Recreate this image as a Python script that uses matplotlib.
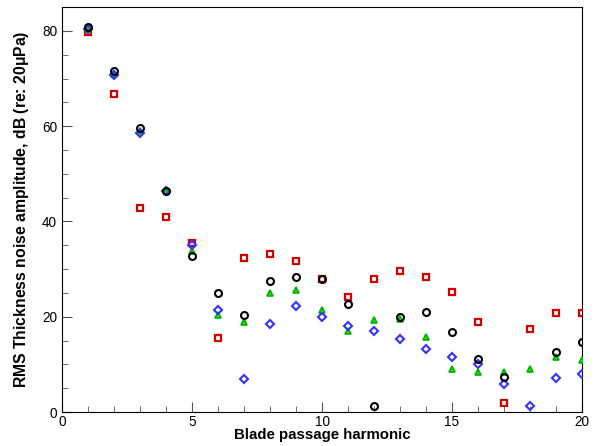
import numpy as np
import matplotlib
matplotlib.use('Agg')
import matplotlib.pyplot as plt
from matplotlib.ticker import MultipleLocator

# Armonica della frequenza di passaggio pala
harmonic = np.arange(1, 21)

# Ampiezze RMS (dB)
black_circle = [80.8, 71.6, 59.6, 46.4, 32.8, 25.0, 20.3, 27.6, 28.4, 27.9,
                22.6, 1.3, 20.0, 20.9, 16.8, 11.2, 7.4, np.nan, 12.7, 14.7]
red_square = [79.8, 66.7, 42.9, 41.0, 35.5, 15.6, 32.3, 33.2, 31.8, 27.9,
              24.2, 28.0, 29.5, 28.4, 25.2, 19.0, 1.8, 17.5, 20.8, 20.8]
green_triangle = [80.5, 71.0, 59.0, 46.3, 33.7, 20.4, 18.8, 25.0, 25.7, 21.5,
                  17.0, 19.4, 19.6, 15.7, 9.1, 8.5, 8.3, 9.0, 11.6, 10.9]
blue_diamond = [80.5, 70.7, 58.5, 46.5, 35.0, 21.4, 6.9, 18.4, 22.2, 20.0,
                18.0, 17.1, 15.4, 13.3, 11.5, 10.0, 5.8, 1.3, 7.2, 8.0]

plt.rcParams['font.family'] = ['Liberation Sans', 'DejaVu Sans']

fig = plt.figure(figsize=(5.94, 4.46), dpi=100)
ax = fig.add_axes([0.1044, 0.0762, 0.8754, 0.9078])

ax.plot(harmonic, red_square, 's', mfc='none', mec='#d40000', mew=1.6, ms=4, zorder=3)
ax.plot(harmonic, green_triangle, '^', color='#22dd22', mec='#00b000', mew=1.2, ms=5, zorder=4)
ax.plot(harmonic, blue_diamond, 'D', mfc='none', mec='#3333ff', mew=1.5, ms=3.8, zorder=5)
ax.plot(harmonic, black_circle, 'o', mfc='none', mec='black', mew=1.5, ms=5, zorder=6)

ax.set_xlim(0, 20)
ax.set_ylim(0, 85)
ax.xaxis.set_major_locator(MultipleLocator(5))
ax.xaxis.set_minor_locator(MultipleLocator(1))
ax.yaxis.set_major_locator(MultipleLocator(20))
ax.yaxis.set_minor_locator(MultipleLocator(5))
ax.tick_params(which='both', direction='in', top=False, right=False,
               color='#555555', labelsize=9.8, pad=3.5)
ax.tick_params(axis='x', which='both', pad=2.5)
ax.tick_params(which='major', length=7)
ax.tick_params(which='minor', length=4)

ax.set_xlabel('Blade passage harmonic', fontsize=10.8, fontweight='bold', labelpad=-1)
ax.set_ylabel(r'RMS Thickness noise amplitude, dB (re: 20$\mathregular{\mu}$Pa)',
              fontsize=11.3, fontweight='bold', labelpad=8)

fig.savefig('out.png', dpi=100)
